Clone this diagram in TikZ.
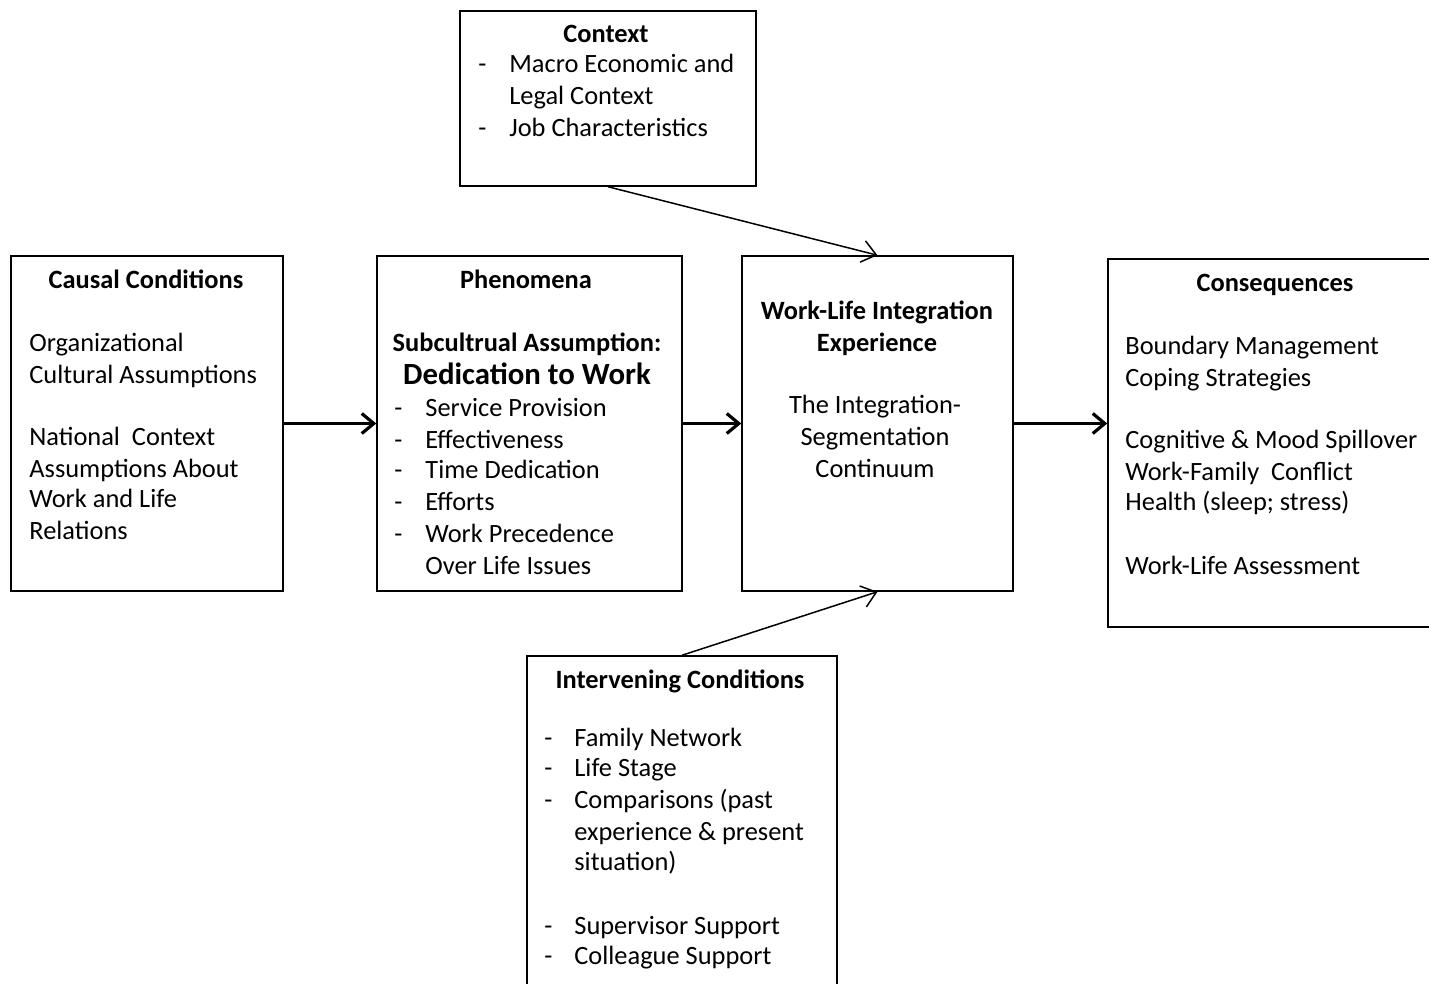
\documentclass[tikz,border=0pt]{standalone}
\usepackage{fontspec}
\setmainfont{Carlito}
\usetikzlibrary{arrows.meta}
\begin{document}
\begin{tikzpicture}[x=0.5pt,y=-0.5pt,
  box/.style={draw, line width=0.75pt, inner sep=0pt},
  txt/.style={anchor=base west, inner sep=0pt, font=\fontsize{13.2}{15.7}\selectfont},
  hd/.style={anchor=base, inner sep=0pt, font=\fontsize{13.2}{15.7}\selectfont\bfseries},
  bigarrow/.style={line width=1.5pt, -{Straight Barb[length=6pt,width=10pt,line width=1.6pt]}},
  thinarrow/.style={line width=0.75pt, -{Straight Barb[length=7pt,width=11pt,line width=0.75pt]}}
]
\useasboundingbox (0,0) rectangle (1429,984);
\clip (0,0) rectangle (1429,984);
\fill[white] (0,0) rectangle (1429,984);

% boxes
\node[box, minimum width=148pt, minimum height=87.5pt] (ctx) at (608,98.5) {};
\node[box, minimum width=136pt, minimum height=167.5pt] (cau) at (147,423.5) {};
\node[box, minimum width=152.5pt, minimum height=167.5pt] (phe) at (529.5,423.5) {};
\node[box, minimum width=135.5pt, minimum height=167.5pt] (wl) at (877.5,423.5) {};
\node[box, minimum width=171pt, minimum height=184pt] (con) at (1279,443) {};
\node[box, minimum width=155pt, minimum height=177pt] (int) at (682,833) {};

% context text
\node[hd] (ctxh) at (606,43) {Context};
\node[txt] (ctxd1) at (478,73) {-};
\node[txt] (ctx1) at (509,73) {Macro Economic and};
\node[txt] (ctx2) at (509,105) {Legal Context};
\node[txt] (ctxd2) at (478,137) {-};
\node[txt] (ctx3) at (509,137) {Job Characteristics};

% causal
\node[hd] (cauh) at (146,288) {Causal Conditions};
\node[txt] (cau1) at (29,351) {Organizational};
\node[txt] (cau2) at (29,383) {Cultural Assumptions};
\node[txt] (cau3) at (29,445) {National\ \ Context};
\node[txt] (cau4) at (29,477) {Assumptions About};
\node[txt] (cau5) at (29,507) {Work and Life};
\node[txt] (cau6) at (29,539) {Relations};

% phenomena
\node[hd] (pheh) at (526,288) {Phenomena};
\node[hd] (phes) at (527,351) {Subcultrual Assumption:};
\node[hd, font=\fontsize{15.4}{18}\selectfont\bfseries] (phed) at (527,384) {Dedication to Work};
\node[txt] (phd1) at (394,416) {-};
\node[txt] (ph1) at (425,416) {Service Provision};
\node[txt] (phd2) at (394,448) {-};
\node[txt] (ph2) at (425,448) {Effectiveness};
\node[txt] (phd3) at (394,478) {-};
\node[txt] (ph3) at (425,478) {Time Dedication};
\node[txt] (phd4) at (394,510) {-};
\node[txt] (ph4) at (425,510) {Efforts};
\node[txt] (phd5) at (394,542) {-};
\node[txt] (ph5) at (425,542) {Work Precedence};
\node[txt] (ph6) at (425,574) {Over Life Issues};

% work-life
\node[hd] (wlh1) at (877,319) {Work-Life Integration};
\node[hd] (wlh2) at (877,351) {Experience};
\node[txt, anchor=base] (wl1) at (875,413) {The Integration-};
\node[txt, anchor=base] (wl2) at (875,445) {Segmentation};
\node[txt, anchor=base] (wl3) at (875,477) {Continuum};

% consequences
\node[hd] (conh) at (1275,292) {Consequences};
\node[txt] (con1) at (1125,354) {Boundary Management};
\node[txt] (con2) at (1125,386) {Coping Strategies};
\node[txt] (con3) at (1125,448) {Cognitive \& Mood Spillover};
\node[txt] (con4) at (1125,480) {Work-Family\ \ Conflict};
\node[txt] (con5) at (1125,510) {Health (sleep; stress)};
\node[txt] (con6) at (1125,574) {Work-Life Assessment};

% intervening
\node[hd] (inth) at (680,688) {Intervening Conditions};
\node[txt] (ind1) at (544,746) {-};
\node[txt] (in1) at (574,746) {Family Network};
\node[txt] (ind2) at (544,776) {-};
\node[txt] (in2) at (574,776) {Life Stage};
\node[txt] (ind3) at (544,808) {-};
\node[txt] (in3) at (574,808) {Comparisons (past};
\node[txt] (in4) at (574,840) {experience \& present};
\node[txt] (in5) at (574,870) {situation)};
\node[txt] (ind6) at (544,934) {-};
\node[txt] (in6) at (574,934) {Supervisor Support};
\node[txt] (ind7) at (544,964) {-};
\node[txt] (in7) at (574,964) {Colleague Support};

% connectors
\draw[bigarrow] (cau.east) -- (phe.west);
\draw[bigarrow] (phe.east) -- (wl.west);
\draw[bigarrow] (wl.east) -- (wl.east -| con.west);
\draw[thinarrow] (ctx.south) -- (wl.north);
\draw[thinarrow] (int.north) -- (wl.south);
\end{tikzpicture}
\end{document}
